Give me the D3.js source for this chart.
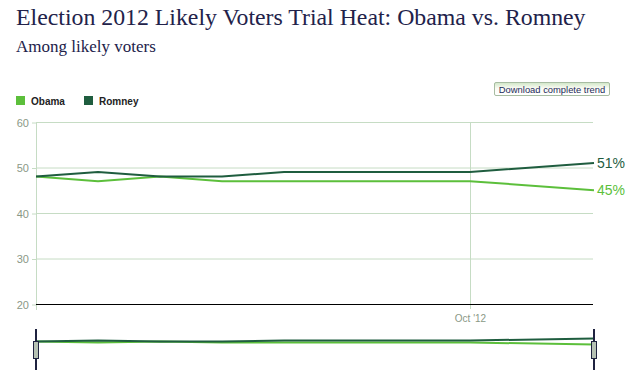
<!DOCTYPE html>
<html>
<head>
<meta charset="utf-8">
<script src="https://cdn.jsdelivr.net/npm/d3@7"></script>
<style>
  body { margin: 0; background: #fff; }
  svg { display: block; }
</style>
</head>
<body>
<svg width="632" height="392"></svg>
<script>
const dates = ['2012-10-08', '2012-10-09', '2012-10-10', '2012-10-11', '2012-10-12', '2012-10-15', '2012-10-17']
const obama = [48, 47, 48, 47, 47, 47, 45]
const romney = [48, 49, 48, 48, 49, 49, 51]
const yTicks = [20, 30, 40, 50, 60]
const xTickDates = ['2012-10-15']

const parse = d3.timeParse('%Y-%m-%d')
const series = [
    { name: 'Obama', color: '#5cbf3b', values: obama },
    { name: 'Romney', color: '#1f5d3f', values: romney }
]

const svg = d3.select('svg')

// titles
svg.append('text')
    .attr('x', 16).attr('y', 25)
    .attr('font-family', 'Liberation Serif, serif')
    .attr('font-size', 23.8)
    .attr('fill', '#22224a')
    .text('Election 2012 Likely Voters Trial Heat: Obama vs. Romney')

svg.append('text')
    .attr('x', 16).attr('y', 52)
    .attr('font-family', 'Liberation Serif, serif')
    .attr('font-size', 17)
    .attr('fill', '#22224a')
    .text('Among likely voters')

// legend
const legend = svg.append('g').attr('font-family', 'Liberation Sans, Arial, sans-serif')
const legendX = [16, 84]
series.forEach((s, i) => {
    legend.append('rect')
        .attr('x', legendX[i]).attr('y', 96)
        .attr('width', 9).attr('height', 9)
        .attr('fill', s.color)
    legend.append('text')
        .attr('x', legendX[i] + 15).attr('y', 104.5)
        .attr('font-size', 10)
        .attr('font-weight', 'bold')
        .attr('fill', '#222')
        .text(s.name)
})

// download button
const grad = svg.append('defs').append('linearGradient')
    .attr('id', 'btn').attr('x1', 0).attr('y1', 0).attr('x2', 0).attr('y2', 1)
grad.append('stop').attr('offset', '0%').attr('stop-color', '#cfe6c6')
grad.append('stop').attr('offset', '45%').attr('stop-color', '#fbfbf4')
grad.append('stop').attr('offset', '100%').attr('stop-color', '#ffffff')
svg.append('rect')
    .attr('x', 494.5).attr('y', 82.5)
    .attr('width', 115).attr('height', 13)
    .attr('rx', 1.5)
    .attr('fill', 'url(#btn)')
    .attr('stroke', '#a7bca2')
svg.append('text')
    .attr('x', 552).attr('y', 92.5)
    .attr('text-anchor', 'middle')
    .attr('font-family', 'Liberation Sans, Arial, sans-serif')
    .attr('font-size', 9.4)
    .attr('fill', '#1c2a5a')
    .text('Download complete trend')

// main chart
const x = d3.scaleTime()
    .domain(d3.extent(dates, parse))
    .range([36, 594])
const y = d3.scaleLinear().domain([20, 60]).range([304, 122])

const grid = svg.append('g')
grid.selectAll('line.h').data(yTicks.slice(1))
    .enter().append('line')
    .attr('x1', 36).attr('x2', 593)
    .attr('y1', d => y(d) + 0.5).attr('y2', d => y(d) + 0.5)
    .attr('stroke', '#c6dcc4')

grid.selectAll('line.v').data(xTickDates.map(parse))
    .enter().append('line')
    .attr('x1', d => Math.round(x(d)) + 0.5).attr('x2', d => Math.round(x(d)) + 0.5)
    .attr('y1', 122).attr('y2', 309)
    .attr('stroke', '#c6dcc4')

svg.append('line')
    .attr('x1', 36.5).attr('x2', 36.5)
    .attr('y1', 122).attr('y2', 310)
    .attr('stroke', '#c6dcc4')

const yAxis = svg.append('g')
    .attr('transform', 'translate(36,0.5)')
    .call(d3.axisLeft(y).tickValues(yTicks).tickSize(4).tickPadding(3))
yAxis.select('.domain').remove()
yAxis.selectAll('line').attr('stroke', '#c6dcc4')
yAxis.selectAll('text')
    .attr('fill', '#8a9886')
    .attr('font-family', 'Liberation Sans, Arial, sans-serif')
    .attr('font-size', 11)

svg.append('line')
    .attr('x1', 36).attr('x2', 593)
    .attr('y1', 304.5).attr('y2', 304.5)
    .attr('stroke', '#000').attr('stroke-width', 1.2)

const xAxis = svg.append('g')
    .attr('transform', 'translate(0,305)')
    .call(d3.axisBottom(x).tickValues(xTickDates.map(parse))
        .tickFormat(d3.timeFormat("%b '%y")).tickSize(0).tickPadding(10))
xAxis.select('.domain').remove()
xAxis.selectAll('text')
    .attr('fill', '#8a9886')
    .attr('font-family', 'Liberation Sans, Arial, sans-serif')
    .attr('font-size', 10)

const line = d3.line()
    .x((d, i) => x(parse(dates[i])))
    .y(d => y(d))

svg.selectAll('path.series').data(series)
    .enter().append('path')
    .attr('class', 'series')
    .attr('d', s => line(s.values))
    .attr('fill', 'none')
    .attr('stroke', s => s.color)
    .attr('stroke-width', 2)

svg.selectAll('text.end').data(series)
    .enter().append('text')
    .attr('class', 'end')
    .attr('x', 597)
    .attr('y', s => y(s.values[s.values.length - 1]) + 5)
    .attr('font-family', 'Liberation Sans, Arial, sans-serif')
    .attr('font-size', 14)
    .attr('fill', s => s.color)
    .text(s => s.values[s.values.length - 1] + '%')

// navigator
const yNav = d3.scaleLinear().domain([40, 60]).range([349.5, 329.5])
const navLine = d3.line()
    .x((d, i) => x(parse(dates[i])))
    .y(d => yNav(d))

svg.selectAll('path.nav').data(series)
    .enter().append('path')
    .attr('class', 'nav')
    .attr('d', s => navLine(s.values))
    .attr('fill', 'none')
    .attr('stroke', s => s.color)
    .attr('stroke-width', 2)

const handles = svg.selectAll('g.handle').data(x.range())
    .enter().append('g').attr('class', 'handle')
handles.append('line')
    .attr('x1', d => d).attr('x2', d => d)
    .attr('y1', 329).attr('y2', 370)
    .attr('stroke', '#1f2340').attr('stroke-width', 2)
handles.append('rect')
    .attr('x', d => d - 2.5).attr('y', 341.5)
    .attr('width', 5).attr('height', 17)
    .attr('fill', '#b6c2b4')
    .attr('stroke', '#1f2340')
</script>
</body>
</html>
